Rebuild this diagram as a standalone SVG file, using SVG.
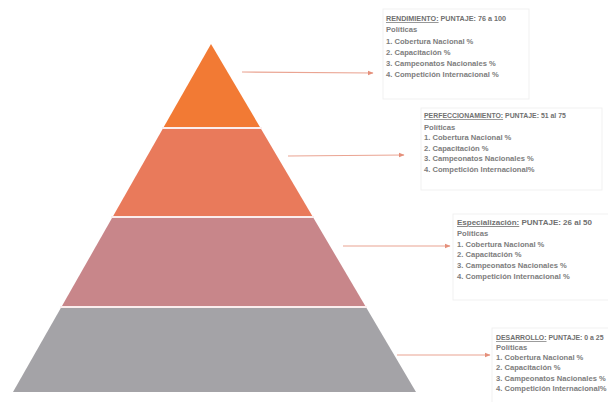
<svg xmlns="http://www.w3.org/2000/svg" width="608" height="402" viewBox="0 0 608 402">
<defs>
<marker id="ah" markerWidth="6" markerHeight="6" refX="5" refY="3" orient="auto" markerUnits="userSpaceOnUse">
<path d="M0,0.8 L5.5,3 L0,5.2 Z" fill="#e58f7a"/>
</marker>
<style>
.t{font-family:"Liberation Sans",Arial,sans-serif;font-size:7.6px;font-weight:bold;fill:#7d7d7d}
.h{font-family:"Liberation Sans",Arial,sans-serif;font-weight:bold;fill:#707070}
.u{text-decoration:underline}
.box{fill:#fff;stroke:#f1f1f1;stroke-width:1}
.conn{stroke:#eaa492;stroke-width:1.2;fill:none;marker-end:url(#ah)}
.sep{stroke:#fbeeee;stroke-width:2}
</style>
</defs>
<rect width="608" height="402" fill="#fff"/>
<g id="pyramid">
<polygon id="tier1" points="211,44 260.5,128 163.2,128" fill="#f27a34"/>
<polygon id="tier2" points="163.2,128 260.5,128 312.9,217 112.6,217" fill="#e97a5b"/>
<polygon id="tier3" points="112.6,217 312.9,217 365.9,307 61.4,307" fill="#c8868a"/>
<polygon id="tier4" points="61.4,307 365.9,307 416,392 13,392" fill="#a4a3a7"/>
<line class="sep" x1="162" y1="128" x2="262" y2="128"/>
<line class="sep" x1="111" y1="217" x2="314" y2="217"/>
<line class="sep" x1="60" y1="307" x2="367" y2="307"/>
</g>
<g id="connectors">
<line class="conn" x1="242" y1="72" x2="373" y2="73"/>
<line class="conn" x1="288" y1="156" x2="404" y2="155"/>
<line class="conn" x1="343" y1="246" x2="450" y2="246"/>
<line class="conn" x1="397" y1="355" x2="490" y2="355"/>
</g>
<g id="box-rendimiento">
<rect class="box" x="383" y="9" width="146" height="90"/>
<text class="h" x="386" y="21" font-size="7.2"><tspan class="u">RENDIMIENTO:</tspan> PUNTAJE: 76 a 100</text>
<text class="t" x="386" y="32">Políticas</text>
<text class="t" x="386" y="44">1. Cobertura Nacional %</text>
<text class="t" x="386" y="55">2. Capacitación %</text>
<text class="t" x="386" y="66">3. Campeonatos Nacionales %</text>
<text class="t" x="386" y="77">4. Competición Internacional %</text>
</g>
<g id="box-perfeccionamiento">
<rect class="box" x="421" y="108" width="181" height="82"/>
<text class="h" x="424" y="118" font-size="6.9"><tspan class="u">PERFECCIONAMIENTO:</tspan> PUNTAJE: 51 al 75</text>
<text class="t" x="424" y="129.5">Políticas</text>
<text class="t" x="424" y="140">1. Cobertura Nacional %</text>
<text class="t" x="424" y="151">2. Capacitación %</text>
<text class="t" x="424" y="161">3. Campeonatos Nacionales %</text>
<text class="t" x="424" y="172">4. Competición Internacional%</text>
</g>
<g id="box-especializacion">
<rect class="box" x="453" y="214" width="156" height="86"/>
<text class="h" x="457" y="225" font-size="8"><tspan class="u">Especialización:</tspan> PUNTAJE: 26 al 50</text>
<text class="t" x="457" y="236">Políticas</text>
<text class="t" x="457" y="247">1. Cobertura Nacional %</text>
<text class="t" x="457" y="257">2. Capacitación %</text>
<text class="t" x="457" y="268">3. Campeonatos Nacionales %</text>
<text class="t" x="457" y="279">4. Competición Internacional %</text>
</g>
<g id="box-desarrollo">
<rect class="box" x="492" y="328" width="120" height="76"/>
<text class="h" x="496" y="340" font-size="6.9"><tspan class="u">DESARROLLO:</tspan> PUNTAJE: 0 a 25</text>
<text class="t" x="496" y="350">Políticas</text>
<text class="t" x="496" y="360">1. Cobertura Nacional %</text>
<text class="t" x="496" y="370">2. Capacitación %</text>
<text class="t" x="496" y="381">3. Campeonatos Nacionales %</text>
<text class="t" x="496" y="391">4. Competición Internacional%</text>
</g>
</svg>
